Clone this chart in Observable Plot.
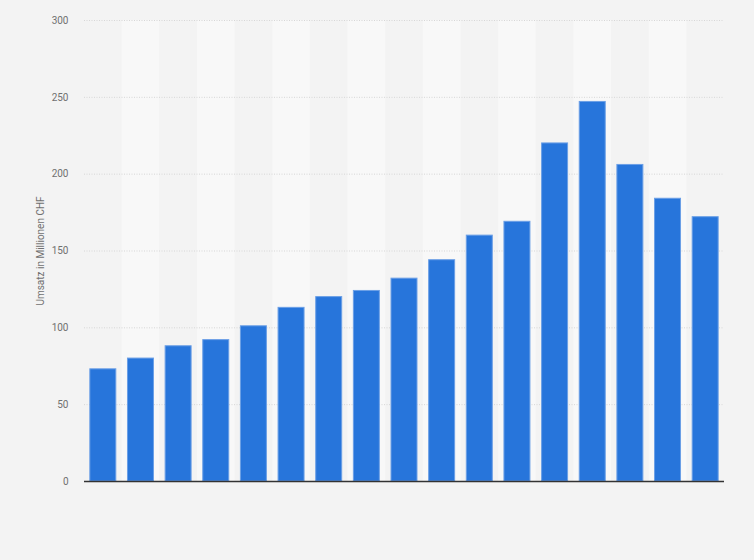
<!DOCTYPE html>
<html>
<head>
<meta charset="utf-8">
<script src="https://cdn.jsdelivr.net/npm/d3@7"></script>
<script src="https://cdn.jsdelivr.net/npm/@observablehq/plot@0.6"></script>
<style>
  html, body { margin: 0; padding: 0; background: #f3f3f3; }
  #chart { width: 754px; height: 560px; }
  svg { display: block; }
</style>
</head>
<body>
<div id="chart"></div>
<script>
// Data (years are not labelled in the reference; categories kept as ordinal years)
const years = ["2005","2006","2007","2008","2009","2010","2011","2012","2013","2014","2015","2016","2017","2018","2019","2020","2021"];
const revenue = [73, 80, 88, 92, 101, 113, 120, 124, 132, 144, 160, 169, 220, 247, 206, 184, 172];
const yTicks = [0, 50, 100, 150, 200, 250, 300];
const yLabel = "Umsatz in Millionen CHF";

const data = years.map((y, i) => ({year: y, value: revenue[i], idx: i}));
const shaded = data.filter(d => d.idx % 2 === 1);

const width = 754, height = 560;
const marginLeft = 84, marginRight = 30, marginTop = 20, marginBottom = 79;
const step = (width - marginLeft - marginRight) / years.length;
const padInner = 0.31;
const half = step * padInner / 2;

const plot = Plot.plot({
  width, height,
  marginLeft, marginRight, marginTop, marginBottom,
  style: {background: "#f3f3f3", fontFamily: "Roboto, 'Liberation Sans', Arial, sans-serif", fontSize: "10px", color: "#666"},
  x: {domain: years, paddingInner: padInner, paddingOuter: padInner / 2, round: false, axis: null},
  y: {domain: [0, 300], ticks: yTicks},
  marks: [
    Plot.barY(shaded, {x: "year", y1: 0, y2: 300, fill: "#f8f8f8", insetLeft: -half, insetRight: -half}),
    Plot.gridY(yTicks.filter(t => t > 0), {stroke: "#d6d6d6", strokeOpacity: 1, strokeDasharray: "1,1.5", strokeWidth: 1}),
    Plot.axisY({ticks: yTicks, tickSize: 0, tickPadding: 16, label: null, fill: "#707070", fontSize: 10}),
    Plot.text([yLabel], {frameAnchor: "left", textAnchor: "middle", dx: -44, rotate: -90, fill: "#707070", fontSize: 10}),
    Plot.barY(data, {x: "year", y: "value", fill: "#2775db", stroke: "#6b9fe6", strokeWidth: 1}),
    Plot.ruleY([0], {stroke: "#333", strokeWidth: 1.5})
  ]
});
document.getElementById("chart").appendChild(plot);
</script>
</body>
</html>
